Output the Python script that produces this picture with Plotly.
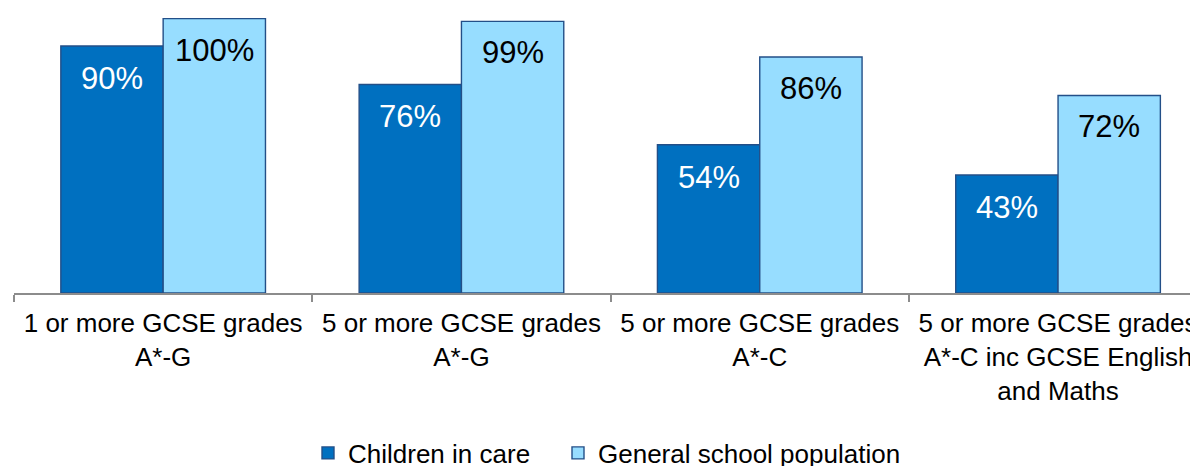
import plotly.graph_objects as go

categories = [
    "1 or more GCSE grades<br>A*-G",
    "5 or more GCSE grades<br>A*-G",
    "5 or more GCSE grades<br>A*-C",
    "5 or more GCSE grades<br>A*-C inc GCSE English<br>and Maths",
]
series_names = ["Children in care", "General school population"]
children_in_care = [90, 76, 54, 43]
general_population = [100, 99, 86, 72]

dark_blue = "#0070C0"
light_blue = "#97DDFF"
outline = "#234F88"
font_family = "Liberation Sans, Arial, sans-serif"

bargap = 0.314
half_offset = (1 - bargap) / 4

# page body has an 8px margin; figure is shifted by (8, 8) on screen
W, H = 1198, 466
ML, MT, MB = 6, 7, 181
cat_px = 298.3
px_per_unit = 2.744

fig = go.Figure()
fig.add_trace(go.Bar(
    name=series_names[0], x=categories, y=children_in_care, legend="legend",
    marker=dict(color=dark_blue, line=dict(color=outline, width=1.4)),
))
fig.add_trace(go.Bar(
    name=series_names[1], x=categories, y=general_population, legend="legend2",
    marker=dict(color=light_blue, line=dict(color=outline, width=1.4)),
))

annotations = []
for i, (a, b) in enumerate(zip(children_in_care, general_population)):
    annotations.append(dict(x=i - half_offset, y=a, xref="x", yref="y",
                            text=f"{a}%", showarrow=False, yanchor="top",
                            yshift=-13, font=dict(size=31, color="white", family=font_family)))
    annotations.append(dict(x=i + half_offset, y=b, xref="x", yref="y",
                            text=f"{b}%", showarrow=False, yanchor="top",
                            yshift=-12, font=dict(size=31, color="black", family=font_family)))

legend_common = dict(orientation="h", xanchor="left", yanchor="middle",
                     xref="container", yref="container", y=1 - 445 / H,
                     font=dict(size=26, color="black", family=font_family),
                     bgcolor="rgba(0,0,0,0)")

fig.update_layout(
    template="none",
    width=W, height=H,
    margin=dict(l=ML, r=0, t=MT, b=MB, autoexpand=False),
    paper_bgcolor="white", plot_bgcolor="white",
    barmode="group", bargap=bargap, bargroupgap=0,
    font=dict(family=font_family, size=26, color="black"),
    showlegend=True,
    legend=dict(x=300 / W, **legend_common),
    legend2=dict(x=550 / W, **legend_common),
    annotations=annotations,
)
fig.update_xaxes(
    type="category", range=[-0.5, -0.5 + (W - ML) / cat_px],
    showline=True, linecolor="#8C8C8C", linewidth=1.5,
    ticks="outside", ticklen=7, tickcolor="#8C8C8C", tickwidth=1.5,
    tickson="boundaries", ticklabelstandoff=6,
    showgrid=False, zeroline=False, automargin=False,
    tickfont=dict(size=26, color="black", family=font_family),
)
fig.update_yaxes(
    range=[0, (H - MT - MB) / px_per_unit], visible=False, showgrid=False, zeroline=False,
)

fig.write_html("out.html")
